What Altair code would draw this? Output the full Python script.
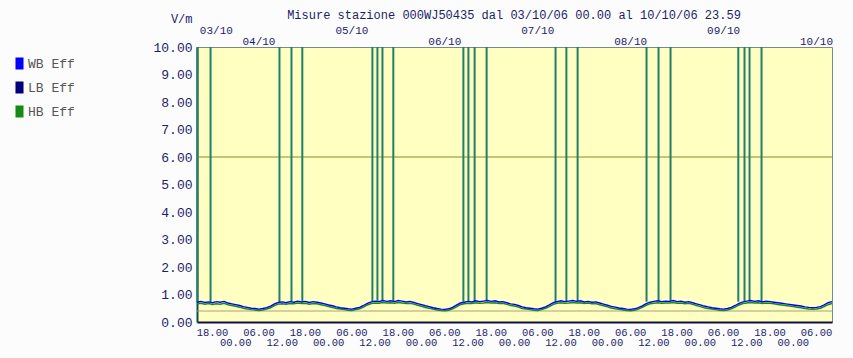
import altair as alt
import pandas as pd

# ---------------- data ----------------
hours = list(range(14, 179))  # hours since 03/10 00:00
wb = [0.72, 0.75, 0.71, 0.73, 0.70, 0.74, 0.72, 0.75, 0.69, 0.66,
      0.63, 0.60, 0.56, 0.53, 0.50, 0.49, 0.47, 0.49, 0.52, 0.58, 0.66, 0.71, 0.73, 0.70, 0.74, 0.72, 0.76, 0.73, 0.75, 0.71, 0.74, 0.72, 0.69, 0.66,
      0.62, 0.59, 0.55, 0.52, 0.50, 0.48, 0.47, 0.50, 0.53, 0.60, 0.68, 0.73, 0.76, 0.74, 0.78, 0.75, 0.77, 0.74, 0.78, 0.76, 0.73, 0.75, 0.71, 0.67,
      0.63, 0.59, 0.56, 0.52, 0.49, 0.47, 0.46, 0.48, 0.53, 0.61, 0.69, 0.72, 0.75, 0.73, 0.77, 0.74, 0.76, 0.78, 0.75, 0.77, 0.73, 0.74, 0.70, 0.66,
      0.64, 0.60, 0.55, 0.52, 0.50, 0.48, 0.47, 0.50, 0.55, 0.62, 0.70, 0.74, 0.77, 0.74, 0.76, 0.78, 0.75, 0.77, 0.73, 0.75, 0.72, 0.73, 0.69, 0.65,
      0.61, 0.57, 0.54, 0.51, 0.49, 0.47, 0.46, 0.48, 0.52, 0.59, 0.67, 0.72, 0.75, 0.77, 0.74, 0.76, 0.75, 0.78, 0.74, 0.76, 0.72, 0.74, 0.70, 0.66,
      0.62, 0.58, 0.55, 0.52, 0.50, 0.48, 0.47, 0.49, 0.53, 0.60, 0.68, 0.73, 0.76, 0.78, 0.75, 0.77, 0.73, 0.76, 0.74, 0.72, 0.70, 0.68, 0.66, 0.64,
      0.62, 0.60, 0.58, 0.55, 0.53, 0.52, 0.53, 0.56, 0.62, 0.70, 0.74]
hb = [0.66, 0.68, 0.65, 0.67, 0.64, 0.66, 0.65, 0.68, 0.63, 0.60,
      0.57, 0.54, 0.50, 0.47, 0.45, 0.44, 0.42, 0.44, 0.47, 0.52, 0.60, 0.65, 0.66, 0.65, 0.67, 0.66, 0.69, 0.67, 0.68, 0.65, 0.67, 0.66, 0.63, 0.60,
      0.56, 0.53, 0.49, 0.47, 0.45, 0.43, 0.42, 0.45, 0.48, 0.54, 0.62, 0.67, 0.69, 0.68, 0.71, 0.69, 0.70, 0.68, 0.71, 0.69, 0.67, 0.68, 0.65, 0.61,
      0.57, 0.53, 0.50, 0.47, 0.44, 0.42, 0.41, 0.43, 0.48, 0.55, 0.63, 0.66, 0.68, 0.67, 0.70, 0.68, 0.69, 0.71, 0.69, 0.70, 0.67, 0.68, 0.64, 0.60,
      0.58, 0.54, 0.49, 0.47, 0.45, 0.43, 0.42, 0.45, 0.50, 0.56, 0.64, 0.68, 0.70, 0.68, 0.69, 0.71, 0.69, 0.70, 0.67, 0.69, 0.66, 0.67, 0.63, 0.59,
      0.55, 0.51, 0.48, 0.46, 0.44, 0.42, 0.41, 0.43, 0.47, 0.53, 0.61, 0.66, 0.68, 0.70, 0.68, 0.69, 0.69, 0.71, 0.68, 0.69, 0.66, 0.68, 0.64, 0.60,
      0.56, 0.52, 0.49, 0.47, 0.45, 0.43, 0.42, 0.44, 0.48, 0.54, 0.62, 0.67, 0.69, 0.71, 0.69, 0.70, 0.67, 0.69, 0.68, 0.66, 0.64, 0.62, 0.60, 0.58,
      0.56, 0.54, 0.52, 0.49, 0.47, 0.46, 0.47, 0.50, 0.56, 0.63, 0.67]

spike_hours = [14.1, 17.5, 35.3, 38.4, 41.2, 59.3, 60.6, 61.9, 64.7,
               82.8, 84.1, 85.7, 88.8, 106.6, 109.4, 112.3,
               130.1, 133.2, 136.3, 153.8, 155.4, 156.7, 159.8]
spike_base = [0.72, 0.73, 0.72, 0.74, 0.75, 0.75, 0.77, 0.76, 0.75,
              0.74, 0.75, 0.76, 0.76, 0.72, 0.75, 0.76,
              0.74, 0.76, 0.76, 0.74, 0.76, 0.75, 0.73]

tick_hours = list(range(18, 175, 6))
tick_labels = ["18.00", "00.00", "06.00", "12.00"] * 6 + ["18.00", "00.00", "06.00"]

date_hours = [19, 30, 54, 78, 102, 126, 150, 174]
date_labels = ["03/10", "04/10", "05/10", "06/10", "07/10", "08/10", "09/10", "10/10"]

series_names = ["WB Eff", "LB Eff", "HB Eff"]
series_colors = ["#0000ff", "#00007a", "#158a15"]

threshold_values = [6.0, 0.4]
threshold_colors = ["#8a8a2a", "#a8a27a"]

title_text = "Misure stazione 000WJ50435 dal 03/10/06 00.00 al 10/10/06 23.59"

# ---------------- frames ----------------
wb_df = pd.DataFrame({"h": hours, "v": wb})
hb_df = pd.DataFrame({"h": hours, "v": hb})
legend_df = pd.DataFrame({"s": series_names})
spike_df = pd.DataFrame({"h": spike_hours, "top": [10.0] * len(spike_hours), "base": spike_base})
tick_df = pd.DataFrame({"h": tick_hours, "lab": tick_labels})
tick_df["up"] = tick_df["lab"].isin(["18.00", "06.00"])
date_df = pd.DataFrame({"h": date_hours, "lab": date_labels})
date_df["up"] = [i % 2 == 0 for i in range(len(date_labels))]
thr_df = pd.DataFrame({"v": threshold_values, "c": threshold_colors})
title_df = pd.DataFrame({"t": [title_text]})

FONT = "Liberation Mono"
TXT = "#1c1c6a"

xs = alt.Scale(domain=[14, 178], nice=False, zero=False)
ys = alt.Scale(domain=[0, 10], nice=False)
x_axis = alt.Axis(labels=False, ticks=False, grid=False, title=None,
                  domainColor="#101040", domainWidth=2)
y_axis = alt.Axis(values=list(range(0, 11)), format=".2f", grid=False, ticks=False,
                  labelPadding=5, labelFont=FONT, labelFontSize=13, labelColor=TXT,
                  domainColor="#0d4a50", domainWidth=2,
                  title="V/m", titleAngle=0, titleFont=FONT, titleFontSize=12,
                  titleFontWeight="normal", titleColor=TXT, titleAlign="right",
                  titleBaseline="middle", titleX=-5, titleY=-29)
X = alt.X("h:Q", scale=xs, axis=x_axis)
Y = alt.Y("v:Q", scale=ys, axis=y_axis)

cs = alt.Scale(domain=series_names, range=series_colors)
leg = alt.Legend(title=None, orient="none", legendX=-184, legendY=10,
                 symbolType="M-0.67,-1L0.67,-1L0.67,1L-0.67,1Z",
                 symbolSize=144, symbolStrokeWidth=0, symbolOpacity=1,
                 labelFont=FONT, labelFontSize=13, labelColor="#555555",
                 rowPadding=10, labelOffset=2)

thr = alt.Chart(thr_df).mark_rule(strokeWidth=1.2).encode(
    y=Y, color=alt.Color("c:N", scale=None),
)

hb_line = alt.Chart(hb_df).mark_line(strokeWidth=1.5, color=series_colors[2]).encode(x=X, y=Y)
wb_line = alt.Chart(wb_df).mark_line(strokeWidth=1.4, color=series_colors[0]).encode(x=X, y=Y)

# legend source: filled symbols placed outside the canvas, only the legend shows
legend_src = alt.Chart(legend_df).mark_point(filled=True, opacity=1).encode(
    x=alt.value(-2000), y=alt.value(-2000),
    color=alt.Color("s:N", scale=cs, legend=leg),
)

spikes = alt.Chart(spike_df).mark_rule(color="#1f7f6c", strokeWidth=2).encode(
    x=X, y=alt.Y("top:Q", scale=ys, axis=y_axis), y2="base:Q",
)

tick_up = alt.Chart(tick_df).transform_filter("datum.up").mark_text(
    font=FONT, fontSize=10.5, color=TXT, baseline="middle").encode(
    x=X, y=alt.value(286), text="lab:N")
tick_lo = alt.Chart(tick_df).transform_filter("!datum.up").mark_text(
    font=FONT, fontSize=10.5, color=TXT, baseline="middle").encode(
    x=X, y=alt.value(296), text="lab:N")

date_up = alt.Chart(date_df).transform_filter("datum.up").mark_text(
    font=FONT, fontSize=11, color=TXT, baseline="middle").encode(
    x=X, y=alt.value(-16.5), text="lab:N")
date_lo = alt.Chart(date_df).transform_filter("!datum.up").mark_text(
    font=FONT, fontSize=11, color=TXT, baseline="middle").encode(
    x=X, y=alt.value(-5.5), text="lab:N")

title = alt.Chart(title_df).mark_text(
    font=FONT, fontSize=12, color=TXT, baseline="middle").encode(
    x=alt.value(317), y=alt.value(-32), text="t:N")

chart = alt.layer(thr, spikes, hb_line, wb_line, legend_src,
                  tick_up, tick_lo, date_up, date_lo, title).properties(
    width=635, height=275,
    autosize=alt.AutoSizeParams(type="none"),
    padding={"left": 197, "top": 47, "right": 21, "bottom": 36},
    background="#fcfcfc",
).configure_view(
    fill="#ffffc2", stroke="#7d8a84", strokeWidth=1,
)

chart.save("out.html", embed_options={"renderer": "svg", "actions": False})
